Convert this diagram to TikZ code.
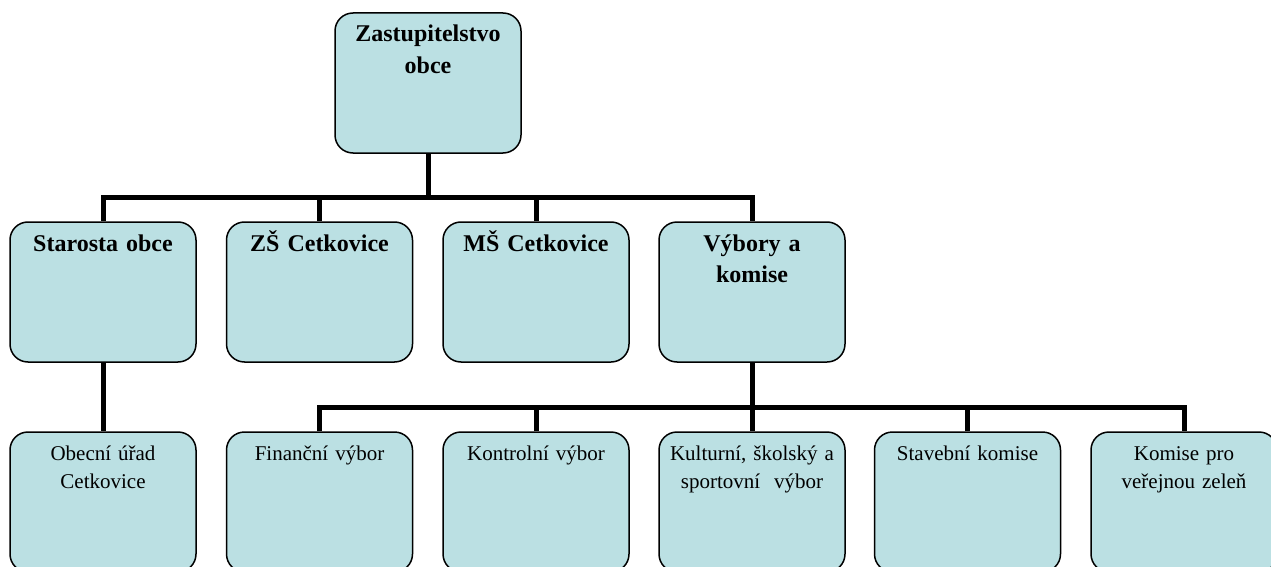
\documentclass[tikz,border=0pt]{standalone}
\usepackage{fontspec}
\setmainfont{Liberation Serif}
\usepackage{tikz}
\usetikzlibrary{calc}
\usetikzlibrary{positioning}
\definecolor{orgfill}{HTML}{BBE0E3}
\begin{document}
\begin{tikzpicture}[x=1pt,y=-1pt]
\tikzstyle{unit}=[rectangle,align=center,draw,rounded corners=18pt,line width=1.5pt,fill=orgfill,
                  text width=176pt,inner xsep=5pt,inner ysep=0pt,text height=29pt,text depth=111pt]
\tikzstyle{head}=[unit,font=\fontsize{24}{31.5}\selectfont\bfseries]
\tikzstyle{sub}=[unit,font=\fontsize{21}{28}\selectfont,text height=28pt,text depth=112pt]
\tikzstyle{conn}=[line width=5pt]
\useasboundingbox (0,0) rectangle (1271,567);
% top
\node[head] at(428, 83) (zast) {Zastupitelstvo\\obce};
% second row
\node[head] at(103, 292) (star) {Starosta obce};
\node[head] at(319.5, 292) (zs) {ZŠ Cetkovice};
\node[head] at(536, 292) (ms) {MŠ Cetkovice};
\node[head] at(752, 292) (vyb) {Výbory a\\komise};
% third row
\node[sub] at(103, 502) (urad) {Obecní úřad\\Cetkovice};
\node[sub] at(319.5, 502) (fin) {Finanční výbor};
\node[sub] at(536, 502) (kon) {Kontrolní výbor};
\node[sub] at(752, 502) (kult) {Kulturní, školský a\\sportovní~ výbor};
\node[sub] at(967.5, 502) (stav) {Stavební komise};
\node[sub] at(1184, 502) (zel) {Komise pro\\veřejnou zeleň};
% connectors
\coordinate (bus1) at (428, 197);
\coordinate (bus2) at (752, 407);
\draw[conn] (zast.south) -- (bus1);
\draw[conn] (star.north) |- (bus1) -| (vyb.north);
\draw[conn] (zs.north) -- (zs.north |- bus1);
\draw[conn] (ms.north) -- (ms.north |- bus1);
\draw[conn] (star.south) -- (urad.north);
\draw[conn] (vyb.south) -- (bus2);
\draw[conn] (fin.north) |- (bus2) -| (zel.north);
\draw[conn] (kon.north) -- (kon.north |- bus2);
\draw[conn] (kult.north) -- (kult.north |- bus2);
\draw[conn] (stav.north) -- (stav.north |- bus2);
\end{tikzpicture}
\end{document}
